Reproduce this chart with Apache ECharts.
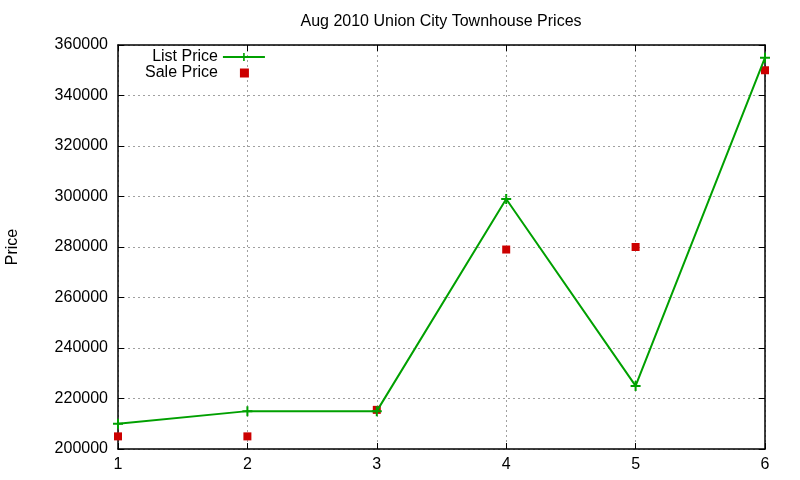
<!DOCTYPE html>
<html><head><meta charset="utf-8">
<script src="https://cdn.jsdelivr.net/npm/echarts@6/dist/echarts.min.js"></script>
<style>html,body{margin:0;padding:0;background:#fff}#c{width:800px;height:480px}</style>
</head><body><div id="c"></div>
<script>
const categories = [1, 2, 3, 4, 5, 6];
const listPrice = [210000, 215000, 215000, 299000, 225000, 355000];
const salePrice = [205000, 205000, 215500, 279000, 280000, 350000];
const yTicks = [200000, 220000, 240000, 260000, 280000, 300000, 320000, 340000, 360000];

const font = 'Liberation Sans, Arial, sans-serif';
const plus = 'path://M4,0H6V4H10V6H6V10H4V6H0V4H4Z';
const squareIcon = 'path://M0,4.5L0,4.5M42,4.5L42,4.5M17,0.5H26V9.5H17Z';
const chart = echarts.init(document.getElementById('c'), null, {renderer: 'canvas'});
const gridLine = {show: true, lineStyle: {color: '#a0a0a0', type: [2, 3], width: 1}};
const boxLine = {show: true, lineStyle: {color: '#000', width: 1.5}};
const tick = {show: true, inside: true, length: 6, lineStyle: {color: '#000'}};
chart.setOption({
  animation: false,
  title: {text: 'Aug 2010 Union City Townhouse Prices', left: 436, top: 9, textAlign: 'center',
    textStyle: {fontFamily: font, fontSize: 16, fontWeight: 'normal', color: '#000'}},
  legend: {
    left: 140, top: 44, orient: 'vertical', align: 'right', itemGap: 0, itemWidth: 42, itemHeight: 10,
    textStyle: {fontFamily: font, fontSize: 16, color: '#000'},
    data: [{name: 'List Price'}, {name: 'Sale Price', icon: squareIcon}]
  },
  grid: {left: 118, right: 35, top: 45, bottom: 31, containLabel: false, outerBoundsMode: 'none'},
  xAxis: [{
    type: 'value', min: categories[0], max: categories[categories.length - 1], interval: 1,
    axisLine: boxLine, axisTick: tick,
    axisLabel: {fontFamily: font, fontSize: 16, color: '#000', margin: 8},
    splitLine: gridLine
  }, {
    type: 'value', position: 'top', min: categories[0], max: categories[categories.length - 1], interval: 1,
    axisLine: boxLine, axisTick: tick,
    axisLabel: {show: false}, splitLine: {show: false}
  }],
  yAxis: [{
    type: 'value', min: yTicks[0], max: yTicks[yTicks.length - 1], interval: 20000,
    name: 'Price', nameLocation: 'middle', nameGap: 97, nameRotate: 90,
    nameTextStyle: {fontFamily: font, fontSize: 16, color: '#000'},
    axisLine: boxLine, axisTick: tick,
    axisLabel: {fontFamily: font, fontSize: 16, color: '#000', margin: 10, formatter: v => String(v)},
    splitLine: gridLine
  }, {
    type: 'value', position: 'right', min: yTicks[0], max: yTicks[yTicks.length - 1], interval: 20000,
    axisLine: boxLine, axisTick: tick,
    axisLabel: {show: false}, splitLine: {show: false}
  }],
  series: [{
    name: 'List Price', type: 'line',
    data: categories.map((c, i) => [c, listPrice[i]]),
    symbol: plus, symbolSize: 10, showSymbol: true,
    lineStyle: {color: '#00a000', width: 2},
    itemStyle: {color: '#00a000'}
  }, {
    name: 'Sale Price', type: 'scatter',
    data: categories.map((c, i) => [c, salePrice[i]]),
    symbol: 'rect', symbolSize: 8,
    itemStyle: {color: '#cc0000', opacity: 1}
  }]
});
</script></body></html>
